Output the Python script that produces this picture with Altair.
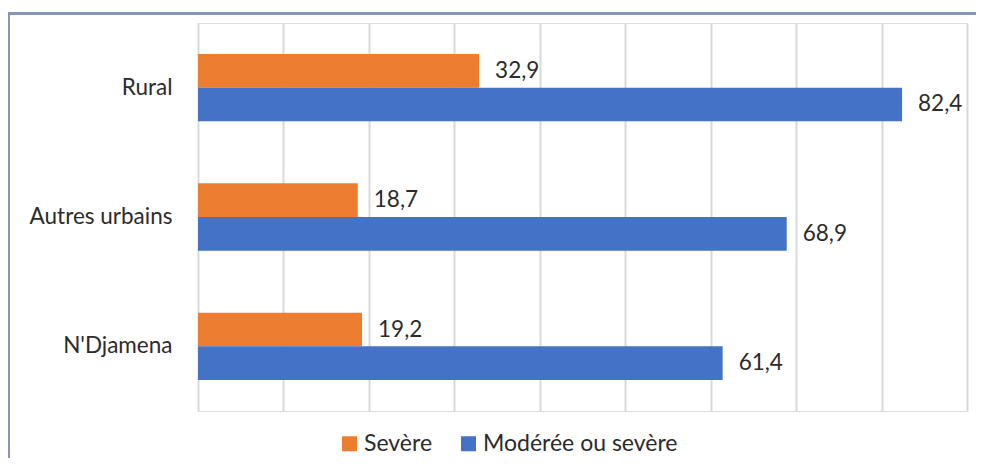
import altair as alt
import pandas as pd

categories = ["Rural", "Autres urbains", "N'Djamena"]
series = ["Sevère", "Modérée ou sevère"]
severe = [32.9, 18.7, 19.2]
moderate = [82.4, 68.9, 61.4]
colors = ["#ED7D31", "#4472C4"]
grid_values = [0, 10, 20, 30, 40, 50, 60, 70, 80, 90]

rows = []
for c, s, m in zip(categories, severe, moderate):
    rows.append({"category": c, "series": series[0], "value": s})
    rows.append({"category": c, "series": series[1], "value": m})
df = pd.DataFrame(rows)
df["label"] = df["value"].map(lambda v: f"{v:.1f}".replace(".", ","))

FONT = "Lato"
TXT = "#2b2b2b"
FS = 22.5

x_enc = alt.X(
    "value:Q",
    scale=alt.Scale(domain=[0, 90], nice=False, zero=True),
    axis=alt.Axis(values=grid_values, labels=False, ticks=False, domain=False,
                  grid=True, gridColor="#D9D9D9", gridWidth=2, title=None),
)
y_enc = alt.Y(
    "category:N", sort=categories,
    scale=alt.Scale(paddingInner=0.48, paddingOuter=0.24),
    axis=alt.Axis(title=None, ticks=False, domain=False, grid=False,
                  labelPadding=26, labelFontSize=FS, labelColor=TXT, labelFont=FONT),
)
yoff = alt.YOffset("series:N", sort=series, scale=alt.Scale(paddingInner=0, paddingOuter=0))

base = alt.Chart(df)
bars = base.mark_bar().encode(
    x=x_enc, y=y_enc, yOffset=yoff,
    color=alt.Color("series:N", sort=series,
                    scale=alt.Scale(domain=series, range=colors),
                    legend=alt.Legend(title=None, orient="none", direction="horizontal",
                                      legendX=140, legendY=409,
                                      symbolType="square", symbolSize=225, symbolStrokeWidth=0,
                                      labelFontSize=23, labelFont=FONT, labelColor=TXT,
                                      labelLimit=400, labelOffset=3, columnPadding=24)),
)
labels = base.mark_text(align="left", baseline="middle", dx=16, fontSize=FS,
                        font=FONT, color=TXT).encode(
    x="value:Q", y=alt.Y("category:N", sort=categories), yOffset=yoff, text="label:N"
)

frame = alt.Chart(pd.DataFrame({"a": [0]})).mark_rect(
    fillOpacity=0, stroke="#8497B8", strokeWidth=3
).encode(x=alt.value(-189.5), x2=alt.value(820), y=alt.value(-9.5), y2=alt.value(500))

chart = alt.layer(frame, bars, labels).properties(
    width=769, height=388,
    autosize=alt.AutoSizeParams(type="none"),
    padding={"left": 190, "top": 15, "right": 9, "bottom": 47},
).configure_view(stroke=None).configure(background="white")

chart.save("out.html", embed_options={"renderer": "svg", "actions": False})
